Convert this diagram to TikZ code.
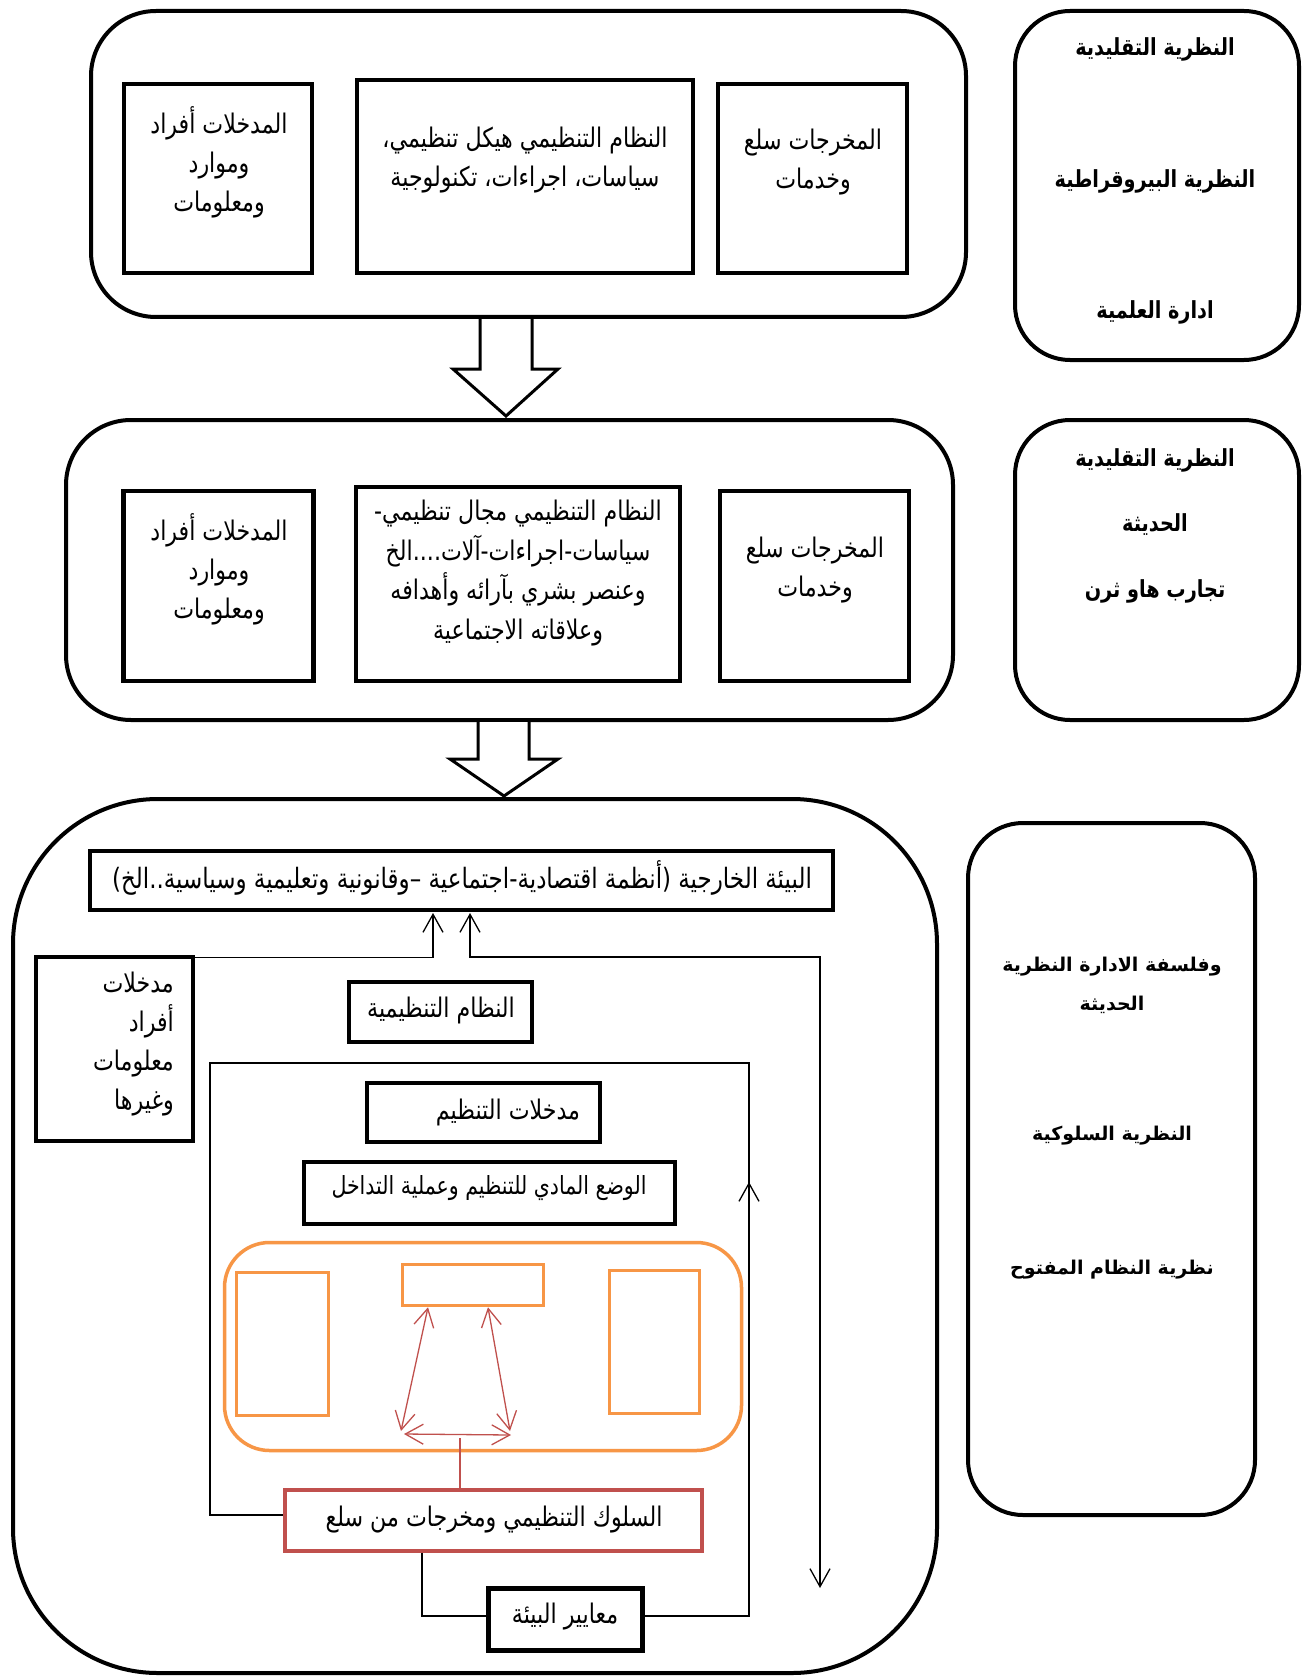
\documentclass[tikz,border=0pt]{standalone}
\usepackage{fontspec}
\usetikzlibrary{arrows.meta}
\TeXXeTstate=1
\newfontfamily\arnarrow[Script=Arabic,FakeStretch=0.82]{DejaVu Sans}
\newfontfamily\arwide[Script=Arabic]{DejaVu Sans}
\newcommand{\rtl}[1]{\beginR #1\endR}
\definecolor{frameorange}{HTML}{F79646}
\definecolor{framered}{HTML}{C0504D}
\begin{document}
\begin{tikzpicture}[x=1pt,y=-1pt,
  heavy/.style={draw=black,line width=4.5pt,inner sep=0pt},
  panel/.style={draw=black,line width=4pt,inner sep=0pt},
  boxtext/.style={inner sep=0pt,align=center,font=\arnarrow\fontsize{27}{39}\selectfont},
  sidetext/.style={inner sep=0pt,align=center,font=\arnarrow\bfseries\fontsize{23.5}{30}\selectfont},
  widetext/.style={inner sep=0pt,align=center,font=\arwide\bfseries\fontsize{19}{39.5}\selectfont},
  thinline/.style={draw=black,line width=1.3pt},
  upbarb/.style={-{Straight Barb[length=18pt,width=20pt]}},
  twobarb/.style={{Straight Barb[length=18pt,width=20pt]}-{Straight Barb[length=18pt,width=20pt]}},
  blockarrow/.style={draw=black,line width=3pt,fill=white,line join=miter}
]
\fill[white] (0,0) rectangle (1306,1677);
\useasboundingbox (0,0) rectangle (1306,1677);

% ---------- first stage ----------
\node[panel,rounded corners=65pt,minimum width=875pt,minimum height=306pt] (topframe) at (528.5,164) {};
\node[heavy,minimum width=188pt,minimum height=189pt] (inA) at (218,178.5) {};
\node[heavy,minimum width=336pt,minimum height=193pt] (sysA) at (525,176.5) {};
\node[heavy,minimum width=189pt,minimum height=189pt] (outA) at (812.5,178.5) {};
\node[boxtext] (inAt) at (219,162) {\rtl{المدخلات أفراد}\\\rtl{وموارد}\\\rtl{ومعلومات}};
\node[boxtext] (sysAt) at (525,160) {\rtl{النظام التنظيمي هيكل تنظيمي،}\\\rtl{سياسات، اجراءات، تكنولوجية}};
\node[boxtext] (outAt) at (813,162) {\rtl{المخرجات سلع}\\\rtl{وخدمات}};

\node[panel,rounded corners=55pt,minimum width=284pt,minimum height=349pt] (theoryA) at (1157,185.5) {};
\node[sidetext] (thA1) at (1155,49) {\rtl{النظرية التقليدية}};
\node[sidetext] (thA2) at (1155,181) {\rtl{النظرية البيروقراطية}};
\node[sidetext] (thA3) at (1155,312) {\rtl{ادارة العلمية}};

% block arrow between first and second stage
\draw[blockarrow] (480,319) -- (480,369) -- (453,369) -- (506,416) -- (558,369) -- (532,369) -- (532,319);

% ---------- second stage ----------
\node[panel,rounded corners=65pt,minimum width=887pt,minimum height=300pt] (midframe) at (509.5,570) {};
\node[heavy,minimum width=190pt,minimum height=190pt] (inB) at (218.5,586) {};
\node[heavy,minimum width=324pt,minimum height=194pt] (sysB) at (518,584) {};
\node[heavy,minimum width=189pt,minimum height=190pt] (outB) at (814.5,586) {};
\node[boxtext] (inBt) at (219,569) {\rtl{المدخلات أفراد}\\\rtl{وموارد}\\\rtl{ومعلومات}};
\node[boxtext,font=\arnarrow\fontsize{27}{39.5}\selectfont] (sysBt) at (518,573) {\rtl{النظام التنظيمي مجال تنظيمي-}\\\rtl{سياسات-اجراءات-آلات....الخ}\\\rtl{وعنصر بشري بآرائه وأهدافه}\\\rtl{وعلاقاته الاجتماعية}};
\node[boxtext] (outBt) at (815,570) {\rtl{المخرجات سلع}\\\rtl{وخدمات}};

\node[panel,rounded corners=55pt,minimum width=284pt,minimum height=300pt] (theoryB) at (1157,570) {};
\node[sidetext] (thB1) at (1155,460) {\rtl{النظرية التقليدية}};
\node[sidetext] (thB2) at (1155,525) {\rtl{الحديثة}};
\node[sidetext] (thB3) at (1155,591) {\rtl{تجارب هاو  ثرن}};

% block arrow between second and third stage
\draw[blockarrow] (478,722) -- (478,759) -- (450,759) -- (504,796) -- (558,759) -- (529,759) -- (529,722);

% ---------- third stage: open system ----------
\node[panel,rounded corners=145pt,minimum width=924pt,minimum height=874pt] (botframe) at (475,1236) {};

\node[heavy,minimum width=743pt,minimum height=59pt] (env) at (461.5,880.5) {};
\node[boxtext,font=\arnarrow\fontsize{28}{39}\selectfont] (envt) at (462,878) {\rtl{البيئة الخارجية (أنظمة اقتصادية-اجتماعية –وقانونية وتعليمية وسياسية..الخ)}};

\node[heavy,minimum width=157pt,minimum height=184pt] (inC) at (114.5,1049) {};
\node[boxtext,align=right,anchor=east] (inCt) at (174,1044) {\rtl{مدخلات}\\\rtl{أفراد}\\\rtl{معلومات}\\\rtl{وغيرها}};

\node[heavy,minimum width=183pt,minimum height=60pt] (sysC) at (440.5,1012) {};
\node[boxtext] (sysCt) at (441,1010) {\rtl{النظام التنظيمية}};

\node[heavy,minimum width=233pt,minimum height=59pt] (orgIn) at (483.5,1112.5) {};
\node[boxtext] (orgInt) at (508,1112) {\rtl{مدخلات التنظيم}};

\node[heavy,minimum width=371pt,minimum height=62pt] (phys) at (489.5,1193) {};
\node[boxtext,font=\arnarrow\fontsize{25}{39}\selectfont] (physt) at (489,1188) {\rtl{الوضع المادي للتنظيم وعملية التداخل}};

% interaction block
\node[draw=frameorange,line width=3.5pt,rounded corners=45pt,minimum width=517pt,minimum height=208pt] (core) at (483,1346.5) {};
\node[draw=frameorange,line width=3.5pt,minimum width=92pt,minimum height=143pt] (coreL) at (282.5,1344) {};
\node[draw=frameorange,line width=3.5pt,minimum width=141pt,minimum height=41pt] (coreT) at (473,1285) {};
\node[draw=frameorange,line width=3.5pt,minimum width=90pt,minimum height=143pt] (coreR) at (654.5,1342) {};

\node[draw=framered,line width=4pt,minimum width=417pt,minimum height=61pt] (behav) at (493,1520) {};
\node[boxtext] (behavt) at (494,1520) {\rtl{السلوك التنظيمي ومخرجات من سلع}};

\node[heavy,minimum width=154pt,minimum height=62pt] (norms) at (565.5,1619.5) {};
\node[boxtext] (normst) at (565,1617) {\rtl{معايير البيئة}};

% connectors of the open system
\coordinate (upL) at (433,913);
\coordinate (upR) at (470,913);
\coordinate (loopTR) at (820,957);
\coordinate (loopEnd) at (820,1588);
\draw[thinline,upbarb] ([yshift=-3pt]inC.north east) -| (upL);
\draw[thinline,twobarb] (upR) |- (loopTR) -- (loopEnd);

\coordinate (ilBL) at (210,1515);
\coordinate (ilTL) at (210,1063);
\coordinate (ilTR) at (749,1063);
\coordinate (ilBR) at (749,1616);
\coordinate (ilMid) at (749,1182);
\draw[thinline] ([yshift=5pt]behav.west) -- (ilBL) -- (ilTL) -- (ilTR) -- (ilBR) -- ([yshift=3.5pt]norms.east);
\draw[thinline,upbarb] (ilBR) -- (ilMid);

\coordinate (fbL) at (422,1616);
\draw[thinline] (behav.south -| fbL) -- (fbL) -- ([yshift=3.5pt]norms.west);

% interaction arrows
\coordinate (rA) at (401,1431);
\coordinate (rB) at (510,1431);
\coordinate (rH1) at (404,1434);
\coordinate (rH2) at (511,1435);
\coordinate (rMid) at (460,1438);
\draw[draw=framered,line width=1.3pt,twobarb] ([xshift=-45pt]coreT.south) -- (rA);
\draw[draw=framered,line width=1.3pt,twobarb] ([xshift=15pt]coreT.south) -- (rB);
\draw[draw=framered,line width=1.3pt,twobarb] (rH1) -- (rH2);
\draw[draw=framered,line width=1.3pt] (rMid) -- (rMid |- behav.north);

% ---------- modern theories ----------
\node[panel,rounded corners=55pt,minimum width=287pt,minimum height=692pt] (theoryC) at (1111.5,1169) {};
\node[widetext] (thC1) at (1112,985.5) {\rtl{وفلسفة الادارة النظرية}\\\rtl{الحديثة}};
\node[widetext] (thC2) at (1112,1136) {\rtl{النظرية السلوكية}};
\node[widetext] (thC3) at (1112,1270) {\rtl{نظرية النظام المفتوح}};
\end{tikzpicture}
\end{document}
